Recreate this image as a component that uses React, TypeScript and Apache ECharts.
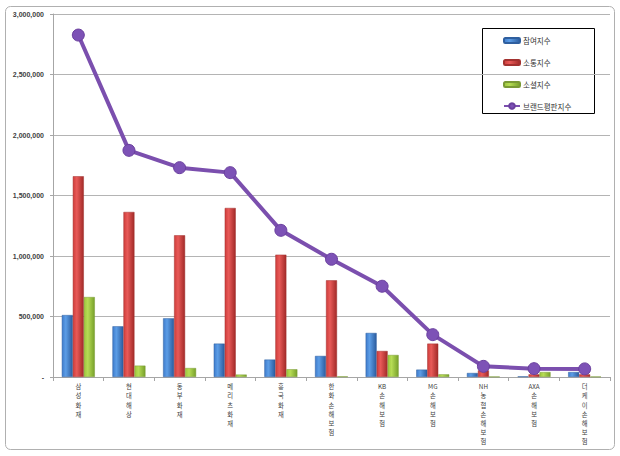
import React, { useEffect, useRef } from "react";
import * as echarts from "echarts";

const categories = [
  "삼성화재",
  "현대해상",
  "동부화재",
  "메리츠화재",
  "흥국화재",
  "한화손해보험",
  "KB손해보험",
  "MG손해보험",
  "NH농협손해보험",
  "AXA손해보험",
  "더케이손해보험",
];
const participation = [512000, 419000, 485000, 276000, 144000, 174000, 364000, 61000, 33000, 5000, 41000];
const communication = [1659000, 1364000, 1171000, 1397000, 1011000, 799000, 215000, 276000, 55000, 22000, 22000];
const social = [661000, 94000, 74000, 20000, 64000, 5000, 182000, 22000, 3000, 41000, 3000];
const brandIndex = [2826000, 1873000, 1730000, 1689000, 1212000, 973000, 750000, 350000, 88000, 69000, 67000];
const yTicks = [0, 500000, 1000000, 1500000, 2000000, 2500000, 3000000];

const seriesNames = ["참여지수", "소통지수", "소셜지수", "브랜드평판지수"];

function barGrad(light: string, mid: string, dark: string) {
  return new echarts.graphic.LinearGradient(0, 0, 1, 0, [
    { offset: 0, color: mid },
    { offset: 0.35, color: light },
    { offset: 1, color: dark },
  ]);
}

// stack the label vertically, keeping runs of Latin letters together on one line
function verticalLabel(v: string) {
  const parts = v.match(/[A-Za-z]+|./g) || [];
  return parts.join("\n");
}

export default function App() {
  const ref = useRef<HTMLDivElement>(null);
  useEffect(() => {
    if (!ref.current) return;
    const chart = echarts.init(ref.current, undefined, { renderer: "svg" });
    const font = "'Noto Sans CJK KR', 'Noto Sans', sans-serif";
    chart.setOption({
      animation: false,
      backgroundColor: "#ffffff",
      grid: { left: 53, right: 10, top: 14, bottom: 79, containLabel: false },
      xAxis: {
        type: "category",
        data: categories,
        boundaryGap: true,
        axisLine: { lineStyle: { color: "#a6a6a6", width: 1 } },
        axisTick: { show: true, length: 4, alignWithLabel: false, lineStyle: { color: "#a6a6a6" } },
        axisLabel: {
          interval: 0,
          rotate: 0,
          hideOverlap: false,
          margin: 5,
          color: "#404040",
          formatter: verticalLabel,
          fontSize: 6.3,
          lineHeight: 9.2,
          fontFamily: font,
        },
      },
      yAxis: {
        type: "value",
        min: yTicks[0],
        max: yTicks[yTicks.length - 1],
        interval: 500000,
        axisLine: { show: true, lineStyle: { color: "#a6a6a6" } },
        axisTick: { show: true, length: 3, lineStyle: { color: "#a6a6a6" } },
        splitLine: { lineStyle: { color: "#b4b4b4" } },
        axisLabel: {
          margin: 9,
          fontSize: 7,
          fontWeight: "bold",
          color: "#404040",
          fontFamily: "'Liberation Sans', Arial, sans-serif",
          formatter: (v: number) => (v === 0 ? "-" : v.toLocaleString("en-US")),
        },
      },
      legend: [
        {
          data: seriesNames.slice(0, 3),
          orient: "vertical",
          left: 503,
          top: 35,
          padding: 0,
          itemWidth: 16,
          itemHeight: 5,
          itemGap: 11,
          textStyle: { fontSize: 7.5, lineHeight: 11, color: "#333333", fontFamily: font, padding: [0, 0, 0, -2] },
        },
        {
          data: [{ name: seriesNames[3], lineStyle: { width: 2 } }],
          orient: "vertical",
          left: 503,
          top: 100.5,
          padding: 0,
          itemWidth: 16,
          itemHeight: 7,
          textStyle: { fontSize: 7.5, lineHeight: 11, color: "#333333", fontFamily: font, padding: [0, 0, 0, -2] },
        },
      ],
      graphic: [
        {
          type: "rect",
          shape: { x: 5.5, y: 6.5, width: 609, height: 443, r: 5 },
          style: { fill: "none", stroke: "#b0b0b0", lineWidth: 1 },
          silent: true,
          z: -10,
        },
        {
          type: "rect",
          shape: { x: 482.5, y: 28.5, width: 112, height: 85 },
          style: { fill: "#ffffff", stroke: "#000000", lineWidth: 1 },
          silent: true,
          z: 0,
        },
      ],
      series: [
        {
          name: seriesNames[0],
          type: "bar",
          data: participation,
          barWidth: 11,
          barGap: "0%",
          itemStyle: { color: barGrad("#5c9de6", "#3f7ccc", "#2b5c9e"), borderColor: "#2f5f9f", borderWidth: 0.5 },
        },
        {
          name: seriesNames[1],
          type: "bar",
          data: communication,
          barWidth: 11,
          barGap: "0%",
          itemStyle: { color: barGrad("#e85a58", "#cf3d3b", "#a22a28"), borderColor: "#a33230", borderWidth: 0.5 },
        },
        {
          name: seriesNames[2],
          type: "bar",
          data: social,
          barWidth: 11,
          barGap: "0%",
          itemStyle: { color: barGrad("#b6dc55", "#9dc63c", "#77a02a"), borderColor: "#7a9a35", borderWidth: 0.5 },
        },
        {
          name: seriesNames[3],
          type: "line",
          data: brandIndex,
          symbol: "circle",
          symbolSize: 12,
          lineStyle: { color: "#7b4fae", width: 4 },
          itemStyle: { color: "#7d52b6", borderColor: "#6a3f9e", borderWidth: 1 },
          z: 5,
        },
      ],
    });
    return () => chart.dispose();
  }, []);
  return (
    <div
      ref={ref}
      style={{ position: "fixed", left: 0, top: 0, width: 620, height: 456, background: "#fff" }}
    />
  );
}
